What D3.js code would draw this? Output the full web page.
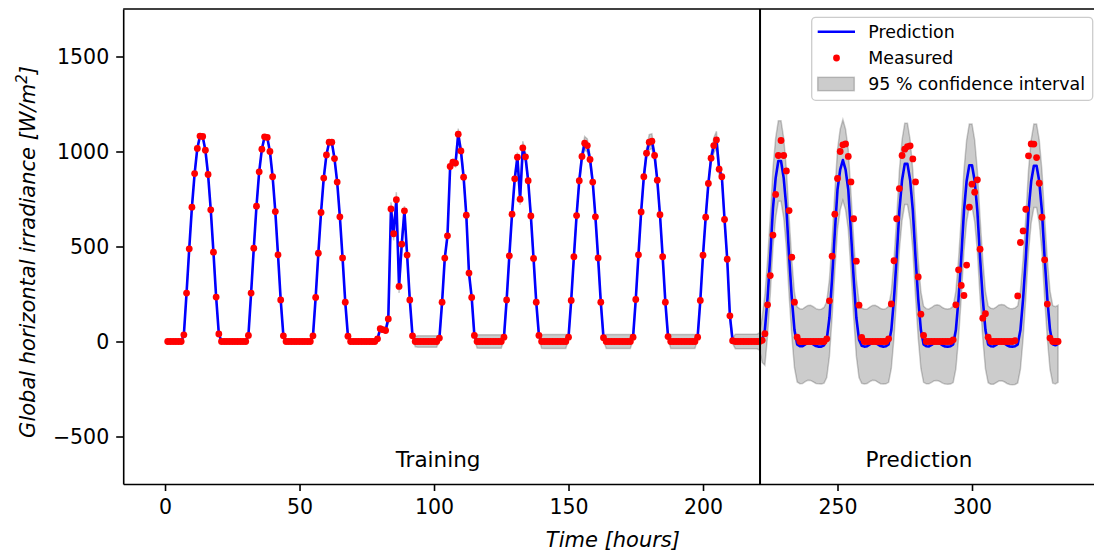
<!DOCTYPE html>
<html>
<head>
<meta charset="utf-8">
<script src="https://cdn.jsdelivr.net/npm/d3@7"></script>
<style>
  body { margin: 0; background: #fff; }
  svg { display: block; font-family: "DejaVu Sans", sans-serif; }
</style>
</head>
<body>
<svg id="chart" width="1094" height="551"></svg>
<script>
// Measured global horizontal irradiance, one row per day, hours 1..332
const measured = [
  [0,0,0,0,0,0, 35,255,488,707,884,1016,1081,1079,1007,879,693,470,234,40, 0,0,0,0],
  [0,0,0,0,0,0, 32,255,491,712,893,1012,1077,1074,1000,867,684,456,219,30, 0,0,0,0],
  [0,0,0,0,0,0, 30,232,465,679,860,982,1049,1049,963,839,656,440,207,28, 0,0,0,0],
  [0,0,0,0,0,0, 14,67,62,58,119,698,567,746,290,512,688,455,219,30, 0,0,0,0],
  [0,0,0,0,0, 18,207,439,556,921,944,939,1091,1003,865,665,360,232,32, 0,0,0,0,0],
  [0,0,0,0,0, 23,219,451,670,856,970,749,1019,972,846,661,437,207,32, 0,0,0,0,0],
  [0,0,0,0,0, 23,216,446,663,846,974,1044,1031,958,839,656,440,207,20, 0,0,0,0,0],
  [0,0,0,0,0, 23,221,456,682,867,991,1049,1054,979,849,667,446,207,26, 0,0,0,0,0],
  [0,0,0,0,0, 23,216,454,654,832,965,1031,1061,907,867,642,433,135,4, 0,0,0,0,0],
  [0,0,0,0,0, 6,41,193,347,560,774,979,1058,979,898,689,444,207,23, 0,0,0,0,0],
  [0,0,0,0,0, 14,214,449,670,858,1000,1035,1040,974,840,646,423,191,21, 0,0,0,0,0],
  [0,0,0,0, 14,198,425,646,805,979,1012,1026,1030,961,840,340,144,32, 0,0,0,0,0,0],
  [0,0,0,0, 9,193,377,295,242,402,707,828,786,851,486,123,146,23, 0,0,0,0,0,0],
  [0,0,0, 4,240,521,582,696,977,1040,1039,968,833,654,430,197,18, 0,0,0]
].flat();

// Half width of the 95 % band, same hours
const ciHalf = [
  [4,4,4,4,4,4, 3,3,3,3,3,3,3,3,3,3,3,3,3,3, 4,4,4,4],
  [4,4,4,4,4,4, 3,3,3,3,3,3,3,3,3,3,3,3,3,3, 5,5,5,5],
  [6,6,6,6,6,6, 4,4,4,4,4,4,4,4,4,4,4,4,4,4, 8,8,8,8],
  [10,10,10,10,10,10, 10,12,12,12,20,35,35,40,35,30,25,10,6,6, 28,30,30,30],
  [30,30,30,30,30, 12,6,6,8,10,15,20,30,20,12,8,6,6,12, 35,36,36,36,36],
  [36,36,36,36,36, 12,6,6,8,12,25,30,35,25,12,8,6,6,12, 36,37,37,37,37],
  [37,37,37,37,37, 12,6,6,8,12,25,35,35,25,12,8,6,6,12, 37,37,37,37,37],
  [37,37,37,37,37, 12,6,6,8,12,25,40,40,25,12,8,6,6,12, 37,37,37,37,37],
  [37,37,37,37,37, 12,6,6,8,12,25,40,45,30,15,8,6,8,15, 38,38,38,38,38],
  [38,38,38,38,45, 120,185,200,205,208,210,212,212,210,208,205,200,198, 198,197,196,196,197,198],
  [198,197,196,197,199, 200,202,205,208,210,212,213,212,210,208,205,202,200,198, 197,196,196,197,198],
  [199,198,197,198,200, 202,205,208,210,212,214,214,212,210,208,205,202,200, 198,197,197,198,199,200],
  [199,198,198,199,201, 204,207,210,213,215,217,217,215,213,210,207,204,202, 200,199,199,200,201,202],
  [201,200,200,201,203, 206,209,212,215,218,220,220,218,215,212,209,206,204, 203,203]
].flat();

// GP mean in the prediction window, hours 221..332
const forecastStart = 221;
const forecastMean = [
  0,10,60,230,450,700,860,950,950,860,700,450,230,60,-15,-25,-25,-15,-7,-7,
  -15,-24,-27,-27,-20,10,125,335,575,800,905,955,905,800,575,335,125,10,-22,-27,
  -25,-15,-7,-7,-15,-24,-27,-25,-15,60,225,445,690,850,935,935,850,690,445,225,
  60,-15,-25,-26,-18,-8,-6,-10,-20,-26,-27,-25,-15,60,225,440,685,845,928,928,
  845,685,440,225,60,-15,-25,-26,-18,-8,-6,-10,-20,-26,-27,-25,-15,60,225,440,
  685,843,925,925,843,685,440,225,60,-15,-20,-12
];

const splitHour = 221.2;
const xTicks = [0, 50, 100, 150, 200, 250, 300];
const yTicks = [-500, 0, 500, 1000, 1500];
const xDomain = [-15.55, 348.55];
const yDomain = [-750, 1750];

// right edge of the axes falls just outside the picture
const plot = {left: 123.2, right: 1102.6, top: 9, bottom: 484};

const svg = d3.select("#chart");

const x = d3.scaleLinear().domain(xDomain).range([plot.left, plot.right]);
const y = d3.scaleLinear().domain(yDomain).range([plot.bottom, plot.top]);

// In the training window the GP mean passes through the measurements
const hours = d3.range(1, measured.length + 1);
const rows = hours.map((h, i) => {
    const mean = h < forecastStart ? measured[i] : forecastMean[h - forecastStart];
    return {h: h, m: measured[i], mean: mean, lo: mean - ciHalf[i], hi: mean + ciHalf[i]};
});

svg.append("rect").attr("width", 1094).attr("height", 551).attr("fill", "#fff");

svg.append("clipPath").attr("id", "clip")
  .append("rect")
  .attr("x", plot.left).attr("y", plot.top)
  .attr("width", plot.right - plot.left).attr("height", plot.bottom - plot.top);

const inner = svg.append("g").attr("clip-path", "url(#clip)");

// confidence band
inner.append("path")
  .datum(rows)
  .attr("d", d3.area().x(d => x(d.h)).y0(d => y(d.lo)).y1(d => y(d.hi)))
  .attr("fill", "#000").attr("fill-opacity", 0.2)
  .attr("stroke", "#000").attr("stroke-opacity", 0.2).attr("stroke-width", 1.5);

// prediction
inner.append("path")
  .datum(rows)
  .attr("d", d3.line().x(d => x(d.h)).y(d => y(d.mean)))
  .attr("fill", "none").attr("stroke", "#0000ff")
  .attr("stroke-width", 2.6).attr("stroke-linejoin", "round");

// measured
inner.selectAll("circle")
  .data(rows)
  .enter()
  .append("circle")
  .attr("cx", d => x(d.h))
  .attr("cy", d => y(d.m))
  .attr("r", 3.4)
  .attr("fill", "#ff0000");

// training / prediction split
svg.append("line")
  .attr("x1", x(splitHour)).attr("x2", x(splitHour))
  .attr("y1", plot.top).attr("y2", plot.bottom)
  .attr("stroke", "#000").attr("stroke-width", 2);

svg.append("text")
  .attr("x", x(101.5)).attr("y", y(-660))
  .attr("text-anchor", "middle").attr("font-size", "21.5px")
  .text("Training");
svg.append("text")
  .attr("x", x(280.3)).attr("y", y(-660))
  .attr("text-anchor", "middle").attr("font-size", "21.5px")
  .text("Prediction");

// axes
const xAxis = svg.append("g")
  .attr("transform", "translate(0," + plot.bottom + ")")
  .call(d3.axisBottom(x).tickValues(xTicks).tickFormat(d3.format("d"))
    .tickSize(7).tickPadding(7).tickSizeOuter(0));
const yAxis = svg.append("g")
  .attr("transform", "translate(" + plot.left + ",0)")
  .call(d3.axisLeft(y).tickValues(yTicks).tickFormat(d3.format("d"))
    .tickSize(7).tickPadding(7).tickSizeOuter(0));

[xAxis, yAxis].forEach(g => {
    g.attr("font-family", "DejaVu Sans").attr("font-size", "20.5px");
    g.selectAll("text").attr("fill", "#000");
    g.selectAll("line").attr("stroke", "#000").attr("stroke-width", 1.6);
    g.select(".domain").attr("stroke", "#000").attr("stroke-width", 1.6);
});
xAxis.selectAll("text").attr("dy", "0.76em");

// top spine
svg.append("line")
  .attr("x1", plot.left).attr("x2", plot.right)
  .attr("y1", plot.top).attr("y2", plot.top)
  .attr("stroke", "#000").attr("stroke-width", 1.6);

// axis labels
svg.append("text")
  .attr("x", (plot.left + plot.right) / 2).attr("y", 547)
  .attr("text-anchor", "middle").attr("font-size", "21px").attr("font-style", "italic")
  .text("Time [hours]");

const yLabel = svg.append("text")
  .attr("transform", "translate(35,252) rotate(-90)")
  .attr("text-anchor", "middle").attr("font-size", "21px").attr("font-style", "italic");
yLabel.append("tspan").text("Global horizontal irradiance [W/m");
yLabel.append("tspan").attr("dy", -8).attr("font-size", "15px").text("2");
yLabel.append("tspan").attr("dy", 8).text("]");

// legend
const legend = svg.append("g");
legend.append("rect")
  .attr("x", 811.7).attr("y", 17.3).attr("width", 281).attr("height", 83)
  .attr("rx", 4).attr("fill", "#fff").attr("fill-opacity", 0.8)
  .attr("stroke", "#cccccc").attr("stroke-width", 1.3);
legend.append("line")
  .attr("x1", 817.7).attr("x2", 855).attr("y1", 31.7).attr("y2", 31.7)
  .attr("stroke", "#0000ff").attr("stroke-width", 2.6);
legend.append("circle")
  .attr("cx", 836.5).attr("cy", 58).attr("r", 3.4).attr("fill", "#ff0000");
legend.append("rect")
  .attr("x", 817.7).attr("y", 77.3).attr("width", 36.6).attr("height", 13.4)
  .attr("fill", "#000").attr("fill-opacity", 0.2)
  .attr("stroke", "#000").attr("stroke-opacity", 0.2).attr("stroke-width", 1.5);

const legendLabels = ["Prediction", "Measured", "95 % confidence interval"];
legend.selectAll("text.lbl")
  .data(legendLabels)
  .enter()
  .append("text")
  .attr("class", "lbl")
  .attr("x", 868.3)
  .attr("y", (d, i) => 38.4 + i * 26)
  .attr("font-size", "17.4px")
  .text(d => d);
</script>
</body>
</html>
